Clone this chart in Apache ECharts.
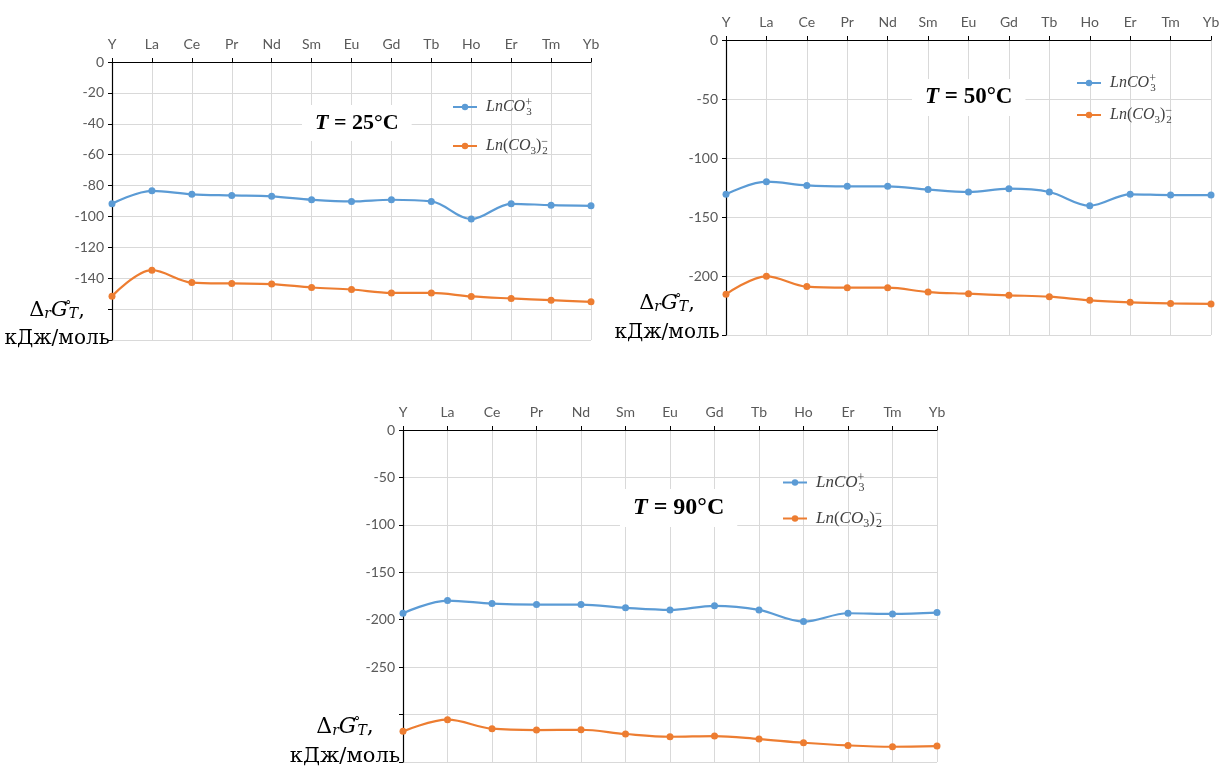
<!DOCTYPE html>
<html>
<head>
<meta charset="utf-8">
<script src="https://cdn.jsdelivr.net/npm/echarts@6/dist/echarts.min.js"></script>
<style>
  html, body { margin: 0; padding: 0; background: #ffffff; }
  #chart { width: 1230px; height: 773px; }
</style>
</head>
<body>
<div id="chart"></div>
<script>
// Lanthanide series (plus Y) along the category axis
const elements = ['Y', 'La', 'Ce', 'Pr', 'Nd', 'Sm', 'Eu', 'Gd', 'Tb', 'Ho', 'Er', 'Tm', 'Yb'];

// Gibbs energy of formation, kJ/mol, for LnCO3+ and Ln(CO3)2- complexes
const monoCarbonate25 = [-91.8, -83.4, -85.7, -86.4, -87.0, -89.2, -90.3, -89.2, -90.3, -101.7, -91.8, -92.7, -93.1];
const diCarbonate25   = [-151.6, -134.8, -142.8, -143.4, -143.8, -146.0, -147.3, -149.5, -149.5, -151.8, -153.1, -154.2, -155.3];

const monoCarbonate50 = [-130.8, -120.1, -123.2, -124.0, -124.0, -126.8, -128.8, -126.0, -128.8, -140.4, -130.8, -131.4, -131.4];
const diCarbonate50   = [-215.5, -200.3, -209.0, -209.9, -209.9, -213.6, -215.0, -216.4, -217.5, -220.6, -222.3, -223.2, -223.7];

const monoCarbonate90 = [-193.2, -179.8, -183.0, -184.0, -184.0, -187.5, -189.7, -185.4, -189.7, -202.0, -193.2, -193.9, -192.5];
const diCarbonate90   = [-317.7, -305.4, -314.9, -316.3, -316.0, -320.5, -323.4, -322.7, -325.8, -329.7, -332.5, -333.9, -333.2];

// Temperatures and value-axis ranges of the three panels
const temperatures = [25, 50, 90];
const axisMin = [-180, -250, -350];
const axisStep = [20, 50, 50];
const lowestLabel = [-140, -200, -250];

const seriesNames = ['LnCO3+', 'Ln(CO3)2-'];
const seriesData = [
  [monoCarbonate25, diCarbonate25],
  [monoCarbonate50, diCarbonate50],
  [monoCarbonate90, diCarbonate90]
];

// Panel geometry (plot rectangles, title boxes, legends, axis-name labels)
const panels = [
  { grid: { left: 112, top: 62, width: 479, height: 278 },
    title: { left: 302, top: 105, size: 22 },
    legend: { left: 452, top: 95, gap: 15, size: 16 },
    yName: { x: 57, y1: 311, y2: 339, size: 20 } },
  { grid: { left: 726, top: 40, width: 485, height: 295 },
    title: { left: 912, top: 79, size: 23 },
    legend: { left: 1076, top: 71, gap: 8, size: 16 },
    yName: { x: 667, y1: 304, y2: 333, size: 20 } },
  { grid: { left: 403, top: 430, width: 534, height: 332 },
    title: { left: 620, top: 489, size: 24 },
    legend: { left: 782, top: 470, gap: 11, size: 17 },
    yName: { x: 345, y1: 727, y2: 757, size: 21 } }
];

const colors = ['#5b9bd5', '#ed7d31'];
const tickFont = 'Lato, "Open Sans", sans-serif';
const serif = '"Liberation Serif", "DejaVu Serif", serif';
const nameSerif = '"DejaVu Serif", "Liberation Serif", serif';

function legendRich(size) {
  return {
    m: { fontFamily: serif, fontStyle: 'italic', fontSize: size, color: '#404040', lineHeight: size + 8, verticalAlign: 'middle' },
    d: { fontFamily: serif, fontSize: Math.round(size * 0.68), color: '#404040', lineHeight: size + 8, verticalAlign: 'bottom', padding: [0, 0, 1, 0] },
    u: { fontFamily: serif, fontSize: Math.round(size * 0.72), color: '#404040', lineHeight: size + 8, verticalAlign: 'top', width: 1, padding: [2, 0, 0, 0] },
    p: { fontFamily: serif, fontSize: size, color: '#404040', lineHeight: size + 8, verticalAlign: 'middle' }
  };
}

function legendLabel(name) {
  if (name === 'LnCO3+') return '{m|LnCO}{u|+}{d|3}';
  return '{m|Ln}{p|(}{m|CO}{d|3}{p|)}{u|−}{d|2}';
}

const option = {
  animation: false,
  backgroundColor: '#ffffff',
  grid: [],
  xAxis: [],
  yAxis: [],
  series: [],
  title: [],
  legend: [],
  graphic: []
};

panels.forEach((p, k) => {
  option.grid.push(Object.assign({ containLabel: false }, p.grid));

  option.xAxis.push({
    type: 'category',
    gridIndex: k,
    data: elements,
    position: 'top',
    boundaryGap: false,
    axisLine: { show: true, onZero: false, lineStyle: { color: '#000000', width: 1.2 } },
    axisTick: { show: true, length: 4, lineStyle: { color: '#000000' } },
    axisLabel: { color: '#595959', fontFamily: tickFont, fontSize: 14, margin: 11, interval: 0 },
    splitLine: { show: true, lineStyle: { color: '#d9d9d9', width: 1 } }
  });

  const low = lowestLabel[k];
  option.yAxis.push({
    type: 'value',
    gridIndex: k,
    min: axisMin[k],
    max: 0,
    interval: axisStep[k],
    axisLine: { show: true, lineStyle: { color: '#000000', width: 1.2 } },
    axisTick: { show: true, length: 4, lineStyle: { color: '#000000' } },
    axisLabel: {
      color: '#595959', fontFamily: tickFont, fontSize: 14, margin: 8,
      formatter: v => (v < low ? '' : String(v))
    },
    splitLine: { show: true, lineStyle: { color: '#d9d9d9', width: 1 } }
  });

  seriesNames.forEach((name, s) => {
    option.series.push({
      name: name,
      type: 'line',
      xAxisIndex: k,
      yAxisIndex: k,
      data: seriesData[k][s],
      smooth: 0.35,
      symbol: 'circle',
      symbolSize: 7,
      showSymbol: true,
      lineStyle: { color: colors[s], width: 2.2 },
      itemStyle: { color: colors[s] },
      emphasis: { disabled: true },
      z: 3
    });
  });

  option.title.push({
    text: '{t|T}{b| = ' + temperatures[k] + '°C}',
    left: p.title.left,
    top: p.title.top,
    backgroundColor: '#ffffff',
    padding: [7, 13, 7, 13],
    z: 5,
    textStyle: {
      rich: {
        t: { fontFamily: serif, fontStyle: 'italic', fontWeight: 'bold', fontSize: p.title.size, color: '#000000' },
        b: { fontFamily: serif, fontWeight: 'bold', fontSize: p.title.size, color: '#000000' }
      }
    }
  });

  option.legend.push({
    data: seriesNames,
    orient: 'vertical',
    left: p.legend.left,
    top: p.legend.top,
    padding: 0,
    itemGap: p.legend.gap,
    itemWidth: 24,
    itemHeight: 8,
    selectedMode: false,
    formatter: legendLabel,
    textStyle: { rich: legendRich(p.legend.size), padding: [0, 0, 0, 4] }
  });

  const ys = p.yName;
  option.graphic.push({
    type: 'text',
    z: 10,
    style: {
      x: ys.x, y: ys.y1,
      align: 'center', verticalAlign: 'middle',
      text: '{n|Δ}{s|r}{i|G}{o|°}{s|T}{n|,}',
      rich: {
        n: { fontFamily: nameSerif, fontSize: ys.size + 1, fill: '#000000' },
        i: { fontFamily: nameSerif, fontStyle: 'italic', fontSize: ys.size + 1, fill: '#000000' },
        s: { fontFamily: nameSerif, fontStyle: 'italic', fontSize: Math.round(ys.size * 0.68), fill: '#000000', verticalAlign: 'bottom' },
        o: { fontFamily: nameSerif, fontSize: Math.round(ys.size * 0.6), fill: '#000000', verticalAlign: 'top', width: 1 }
      }
    }
  });
  option.graphic.push({
    type: 'text',
    z: 10,
    style: {
      x: ys.x, y: ys.y2,
      align: 'center', verticalAlign: 'middle',
      text: 'кДж/моль',
      font: ys.size + 'px ' + nameSerif,
      fill: '#000000'
    }
  });
});

const chart = echarts.init(document.getElementById('chart'), null, { renderer: 'canvas' });
chart.setOption(option);
</script>
</body>
</html>
